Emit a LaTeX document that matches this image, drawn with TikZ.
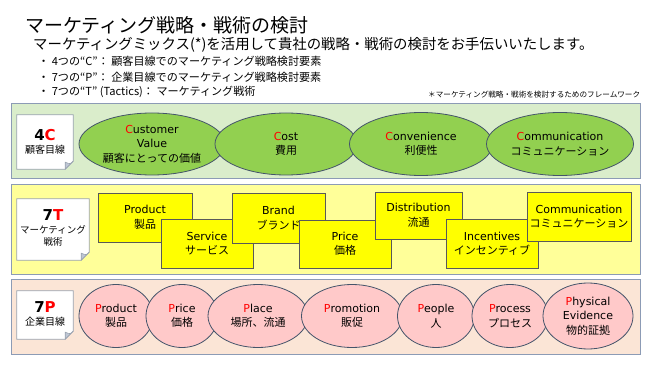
\documentclass[tikz,border=0pt]{standalone}
\usepackage{fontspec}
\setmainfont{DejaVu Sans}
\newfontfamily\jp{Noto Sans CJK JP}
\usetikzlibrary{shapes.geometric}
\definecolor{panelborder}{HTML}{8C9BB5}
\definecolor{greenpanel}{HTML}{DAEDCB}
\definecolor{ellgreen}{HTML}{92D050}
\definecolor{yellowpanel}{HTML}{FFFF99}
\definecolor{ybox}{HTML}{FFFF00}
\definecolor{peachpanel}{HTML}{FBE5D6}
\definecolor{pinkell}{HTML}{FFC9C9}
\definecolor{navyline}{HTML}{44546A}
\definecolor{labelborder}{HTML}{9AA3B0}
\definecolor{foldfill}{HTML}{BFC7D5}
\newcommand{\rc}[1]{\textcolor{red}{#1}}
\newcommand{\jps}[1]{{\jp\fontsize{9.5}{14}\selectfont #1}}
\newcommand{\jpl}[1]{{\jp\fontsize{10}{12}\selectfont #1}}
\newcommand{\lblbig}[1]{{\fontsize{15}{18}\selectfont\bfseries #1}}
\tikzset{
  panel/.style={rectangle, draw=panelborder, line width=1pt, inner sep=0},
  cell/.style={ellipse, draw=navyline, line width=0.8pt, inner sep=0, align=center,
     font=\fontsize{11}{14.5}\selectfont},
  gcell/.style={cell, fill=ellgreen},
  pcell/.style={cell, fill=pinkell},
  tbox/.style={rectangle, draw=black!65, fill=ybox, line width=0.8pt, inner sep=0, align=center,
     font=\fontsize{11}{14.5}\selectfont},
  lbl/.style={rectangle, inner sep=0, align=center},
  hdr/.style={anchor=west, inner sep=0, font=\jp},
}
\newcommand{\labelbox}[1]{%
  \fill[white] (#1.north west) -- (#1.north east) -- ([yshift=8pt]#1.south east)
     -- ([xshift=-8pt]#1.south east) -- (#1.south west) -- cycle;
  \draw[labelborder, line width=0.8pt] (#1.north west) -- (#1.north east) -- ([yshift=8pt]#1.south east)
     -- ([xshift=-8pt]#1.south east) -- (#1.south west) -- cycle;
  \draw[labelborder, fill=foldfill, line width=0.6pt] ([yshift=8pt]#1.south east)
     .. controls ([xshift=-3pt,yshift=5pt]#1.south east) .. ([xshift=-8pt,yshift=7pt]#1.south east)
     -- ([xshift=-8pt]#1.south east) -- cycle;
}
\begin{document}
\begin{tikzpicture}[x=1pt,y=-1pt]
\useasboundingbox (0,0) rectangle (650,366);
\fill[white] (0,0) rectangle (650,366);

% header
\node[hdr, font=\jp\fontsize{19}{21}\selectfont] (title) at (25,25) {マーケティング戦略・戦術の検討};
\node[hdr, font=\jp\fontsize{14.4}{16}\selectfont] (sub) at (33,45) {マーケティングミックス(*)を活用して貴社の戦略・戦術の検討をお手伝いいたします。};
\node[hdr, font=\jp\fontsize{11.1}{13}\selectfont] (b1) at (38,61) {・ 4つの“C”： 顧客目線でのマーケティング戦略検討要素};
\node[hdr, font=\jp\fontsize{11.1}{13}\selectfont] (b2) at (38,77) {・ 7つの“P”： 企業目線でのマーケティング戦略検討要素};
\node[hdr, font=\jp\fontsize{11.1}{13}\selectfont] (b3) at (38,92) {・ 7つの“T” (Tactics)： マーケティング戦術};
\node[hdr, font=\jp\fontsize{7.6}{8}\selectfont] (note) at (428,95) {＊マーケティング戦略・戦術を検討するためのフレームワーク};

% panels
\node[panel, fill=greenpanel, minimum width=629pt, minimum height=75pt] (pc) at (325.5,141.5) {};
\node[panel, fill=yellowpanel, minimum width=629pt, minimum height=89pt] (pt) at (325.5,229.5) {};
\node[panel, fill=peachpanel, minimum width=629pt, minimum height=75pt] (pp) at (325.5,316.5) {};

% label boxes
\node[lbl, minimum width=56pt, minimum height=54pt] (l4c) at (45,142) {};
\labelbox{l4c}
\node[lbl] (l4ct) at (45,142) {\lblbig{4\rc{C}}\\[1pt]\jpl{顧客目線}};
\node[lbl, minimum width=72pt, minimum height=61pt] (l7t) at (53,229.5) {};
\labelbox{l7t}
\node[lbl] (l7tt) at (53,228) {\lblbig{7\rc{T}}\\[1pt]\jps{マーケティング}\\\jps{戦術}};
\node[lbl, minimum width=56pt, minimum height=48pt] (l7p) at (45,315) {};
\labelbox{l7p}
\node[lbl] (l7pt) at (45,314) {\lblbig{7\rc{P}}\\[1pt]\jpl{企業目線}};

% 4C ellipses
\node[gcell, minimum width=146pt, minimum height=62pt] (c1) at (152,144) {\rc{C}ustomer\\Value\\{\jp 顧客にとっての価値}};
\node[gcell, minimum width=142pt, minimum height=62pt] (c2) at (286,144) {\rc{C}ost\\{\jp 費用}};
\node[gcell, minimum width=143pt, minimum height=63pt] (c3) at (421,144) {\rc{C}onvenience\\{\jp 利便性}};
\node[gcell, minimum width=147pt, minimum height=63pt] (c4) at (560,144) {\rc{C}ommunication\\{\jp コミュニケーション}};

% 7T boxes
\node[tbox, minimum width=94pt, minimum height=49pt] (t1) at (145,217.5) {Product\\{\jp 製品}};
\node[tbox, minimum width=92pt, minimum height=49pt] (t2) at (207,243.5) {Service\\{\jp サービス}};
\node[tbox, minimum width=93pt, minimum height=50pt] (t3) at (278.5,218) {Brand\\{\jp ブランド}};
\node[tbox, minimum width=92pt, minimum height=48pt] (t4) at (345,244) {Price\\{\jp 価格}};
\node[tbox, minimum width=87pt, minimum height=47pt] (t5) at (418.5,215.5) {Distribution\\{\jp 流通}};
\node[tbox, minimum width=92pt, minimum height=49pt] (t6) at (492,243.5) {Incentives\\{\jp インセンティブ}};
\node[tbox, minimum width=104pt, minimum height=49pt] (t7) at (579,216.5) {Communication\\{\jp コミュニケーション}};

% 7P ellipses
\node[pcell, minimum width=74pt, minimum height=63pt] (p1) at (116,316) {\rc{P}roduct\\{\jp 製品}};
\node[pcell, minimum width=72pt, minimum height=63pt] (p2) at (182,316) {\rc{P}rice\\{\jp 価格}};
\node[pcell, minimum width=100pt, minimum height=63pt] (p3) at (258,316) {\rc{P}lace\\{\jp 場所、流通}};
\node[pcell, minimum width=101pt, minimum height=63pt] (p4) at (352,316) {\rc{P}romotion\\{\jp 販促}};
\node[pcell, minimum width=77pt, minimum height=63pt] (p5) at (436,316) {\rc{P}eople\\{\jp 人}};
\node[pcell, minimum width=76pt, minimum height=63pt] (p6) at (510,316) {\rc{P}rocess\\{\jp プロセス}};
\node[pcell, minimum width=90pt, minimum height=66pt] (p7) at (588,316) {\rc{P}hysical\\Evidence\\{\jp 物的証拠}};
\end{tikzpicture}
\end{document}
